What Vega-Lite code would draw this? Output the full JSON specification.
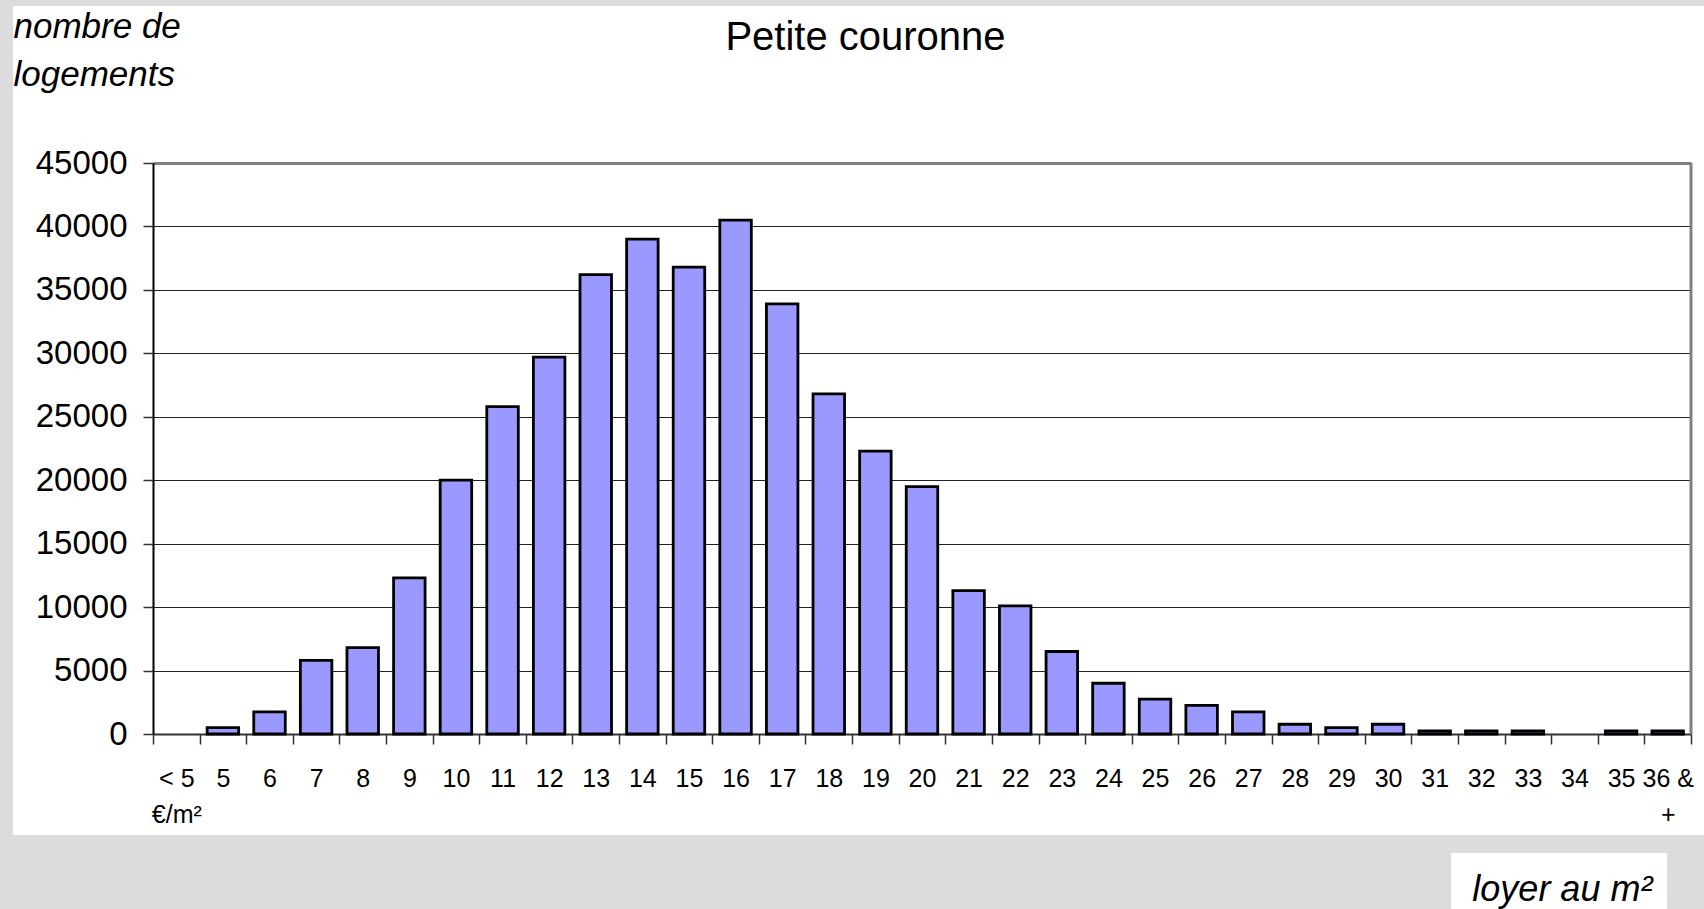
{
  "$schema": "https://vega.github.io/schema/vega-lite/v6.json",
  "width": 1691,
  "height": 829,
  "autosize": {"type": "none"},
  "padding": {"left": 13, "top": 6, "right": 0, "bottom": 74},
  "background": "#DCDCDC",
  "view": {"fill": "#FFFFFF", "stroke": null},
  "title": {"text": "Petite couronne", "font": "Liberation Sans", "fontSize": 40, "fontWeight": "normal", "color": "#000000", "anchor": "middle", "frame": "group", "baseline": "alphabetic", "offset": 0, "dx": 7, "dy": 84},
  "datasets": {
    "logements": [
      {"loyer": "< 5 €/m²", "logements": 0},
      {"loyer": "5", "logements": 500},
      {"loyer": "6", "logements": 1750},
      {"loyer": "7", "logements": 5800},
      {"loyer": "8", "logements": 6800},
      {"loyer": "9", "logements": 12300},
      {"loyer": "10", "logements": 20000},
      {"loyer": "11", "logements": 25800},
      {"loyer": "12", "logements": 29700},
      {"loyer": "13", "logements": 36200},
      {"loyer": "14", "logements": 39000},
      {"loyer": "15", "logements": 36800},
      {"loyer": "16", "logements": 40500},
      {"loyer": "17", "logements": 33900},
      {"loyer": "18", "logements": 26800},
      {"loyer": "19", "logements": 22300},
      {"loyer": "20", "logements": 19500},
      {"loyer": "21", "logements": 11300},
      {"loyer": "22", "logements": 10100},
      {"loyer": "23", "logements": 6500},
      {"loyer": "24", "logements": 4000},
      {"loyer": "25", "logements": 2750},
      {"loyer": "26", "logements": 2250},
      {"loyer": "27", "logements": 1750},
      {"loyer": "28", "logements": 770},
      {"loyer": "29", "logements": 500},
      {"loyer": "30", "logements": 770},
      {"loyer": "31", "logements": 250},
      {"loyer": "32", "logements": 250},
      {"loyer": "33", "logements": 250},
      {"loyer": "34", "logements": 0},
      {"loyer": "35", "logements": 250},
      {"loyer": "36 & +", "logements": 250}
    ],
    "annotation": [{"texte": "loyer au m²"}],
    "cadre": [{"bord": "droit"}]
  },
  "layer": [
    {
      "data": {"name": "logements"},
      "transform": [{"filter": "datum.logements > 0"}],
      "mark": {"type": "bar", "fill": "#9999FF", "stroke": "#000000", "strokeWidth": 2.8, "width": {"band": 0.676}},
      "encoding": {
        "x": {
          "field": "loyer", "type": "nominal", "sort": null,
          "scale": {"domain": ["< 5 €/m²","5","6","7","8","9","10","11","12","13","14","15","16","17","18","19","20","21","22","23","24","25","26","27","28","29","30","31","32","33","34","35","36 & +"], "range": [140, 1678], "paddingInner": 0, "paddingOuter": 0},
          "axis": {
            "orient": "bottom", "offset": -101, "title": null,
            "tickBand": "extent", "tickSize": 10, "tickColor": "#333333", "tickWidth": 1.5,
            "domainColor": "#333333", "domainWidth": 2,
            "labelAngle": 0, "labelFont": "Liberation Sans", "labelFontSize": 25, "labelColor": "#000000",
            "labelPadding": 22, "labelLineHeight": 36, "labelOverlap": false, "labelBound": false, "labelFlush": false,
            "labelExpr": "datum.value == '< 5 €/m²' ? ['< 5', '€/m²'] : datum.value == '36 & +' ? ['36 &', '+'] : datum.value",
            "grid": false
          }
        },
        "y": {
          "field": "logements", "type": "quantitative",
          "scale": {"domain": [0, 45000], "range": [728, 157], "nice": false, "zero": true},
          "axis": {
            "orient": "left", "offset": -140,
            "values": [0, 5000, 10000, 15000, 20000, 25000, 30000, 35000, 40000, 45000],
            "format": "d",
            "title": ["nombre de", "logements"],
            "titleFont": "Liberation Sans", "titleFontSize": 35, "titleFontStyle": "italic", "titleFontWeight": "normal", "titleColor": "#000000",
            "titleAngle": 0, "titleAlign": "left", "titleBaseline": "alphabetic", "titleX": -140, "titleY": 31, "titleLineHeight": 48,
            "labelFont": "Liberation Sans", "labelFontSize": 33, "labelColor": "#000000", "labelPadding": 16,
            "tickSize": 10, "tickColor": "#333333", "tickWidth": 1.5,
            "domainColor": "#000000", "domainWidth": 2,
            "grid": true,
            "gridColor": {"condition": {"test": "datum.value == 45000", "value": "#808080"}, "value": "#222222"},
            "gridWidth": {"condition": {"test": "datum.value == 45000", "value": 3}, "value": 1}
          }
        }
      }
    },
    {
      "data": {"name": "annotation"},
      "mark": {"type": "rect", "fill": "#FFFFFF", "stroke": null},
      "encoding": {
        "x": {"datum": "31", "type": "nominal", "bandPosition": 0.85},
        "x2": {"datum": "36 & +", "bandPosition": 0.485},
        "y": {"datum": -9378, "type": "quantitative"},
        "y2": {"datum": -14400}
      }
    },
    {
      "data": {"name": "annotation"},
      "mark": {"type": "text", "font": "Liberation Sans", "fontSize": 36, "fontStyle": "italic", "color": "#000000", "align": "center", "baseline": "alphabetic"},
      "encoding": {
        "x": {"datum": "34", "type": "nominal", "bandPosition": 0.24},
        "y": {"datum": -13161, "type": "quantitative"},
        "text": {"field": "texte"}
      }
    },
    {
      "data": {"name": "cadre"},
      "mark": {"type": "rule", "stroke": "#808080", "strokeWidth": 3},
      "encoding": {
        "x": {"datum": "36 & +", "type": "nominal", "bandPosition": 1},
        "y": {"datum": 0, "type": "quantitative"},
        "y2": {"datum": 45000}
      }
    }
  ]
}
